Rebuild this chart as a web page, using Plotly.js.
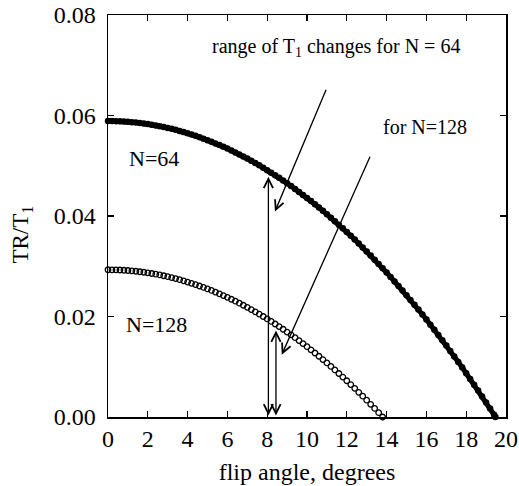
<!DOCTYPE html>
<html>
<head>
<meta charset="utf-8">
<script src="https://cdn.plot.ly/plotly-3.0.1.min.js"></script>
<style>html,body{margin:0;padding:0;background:#fff;}#chart{width:519px;height:486px;}</style>
</head>
<body>
<div id="chart"></div>
<script>
// flip angle (degrees) and TR/T1 for N = 64 (filled circles)
var angle64 = [0,0.2,0.4,0.6,0.8,1,1.2,1.4,1.6,1.8,2,2.2,2.4,2.6,2.8,3,3.2,3.4,3.6,3.8,4,4.2,4.4,4.6,4.8,5,5.2,5.4,5.6,5.8,6,6.2,6.4,6.6,6.8,7,7.2,7.4,7.6,7.8,8,8.2,8.4,8.6,8.8,9,9.2,9.4,9.6,9.8,10,10.2,10.4,10.6,10.8,11,11.2,11.4,11.6,11.8,12,12.2,12.4,12.6,12.8,13,13.2,13.4,13.6,13.8,14,14.2,14.4,14.6,14.8,15,15.2,15.4,15.6,15.8,16,16.2,16.4,16.6,16.8,17,17.2,17.4,17.6,17.8,18,18.2,18.4,18.6,18.8,19,19.2,19.4,19.47];
var tr64 = [0.05890,0.05889,0.05888,0.05885,0.05880,0.05875,0.05868,0.05860,0.05851,0.05841,0.05829,0.05816,0.05802,0.05787,0.05771,0.05753,0.05734,0.05714,0.05692,0.05670,0.05646,0.05621,0.05595,0.05567,0.05539,0.05509,0.05478,0.05445,0.05412,0.05377,0.05341,0.05303,0.05265,0.05225,0.05184,0.05142,0.05098,0.05054,0.05008,0.04960,0.04912,0.04862,0.04811,0.04759,0.04706,0.04651,0.04595,0.04538,0.04480,0.04420,0.04359,0.04297,0.04234,0.04169,0.04103,0.04036,0.03967,0.03897,0.03826,0.03754,0.03681,0.03606,0.03530,0.03452,0.03374,0.03294,0.03212,0.03130,0.03046,0.02961,0.02875,0.02787,0.02698,0.02608,0.02516,0.02423,0.02329,0.02233,0.02137,0.02039,0.01939,0.01838,0.01736,0.01633,0.01528,0.01422,0.01315,0.01206,0.01096,0.00985,0.00872,0.00758,0.00642,0.00525,0.00407,0.00288,0.00167,0.00045,0];
// flip angle (degrees) and TR/T1 for N = 128 (open circles)
var angle128 = [0,0.2,0.4,0.6,0.8,1,1.2,1.4,1.6,1.8,2,2.2,2.4,2.6,2.8,3,3.2,3.4,3.6,3.8,4,4.2,4.4,4.6,4.8,5,5.2,5.4,5.6,5.8,6,6.2,6.4,6.6,6.8,7,7.2,7.4,7.6,7.8,8,8.2,8.4,8.6,8.8,9,9.2,9.4,9.6,9.8,10,10.2,10.4,10.6,10.8,11,11.2,11.4,11.6,11.8,12,12.2,12.4,12.6,12.8,13,13.2,13.4,13.6,13.8];
var tr128 = [0.02930,0.02929,0.02928,0.02925,0.02920,0.02915,0.02908,0.02900,0.02891,0.02881,0.02869,0.02856,0.02842,0.02827,0.02811,0.02793,0.02774,0.02754,0.02732,0.02710,0.02686,0.02661,0.02635,0.02607,0.02579,0.02549,0.02518,0.02485,0.02452,0.02417,0.02381,0.02343,0.02305,0.02265,0.02224,0.02182,0.02138,0.02094,0.02048,0.02000,0.01952,0.01902,0.01851,0.01799,0.01746,0.01691,0.01635,0.01578,0.01520,0.01460,0.01399,0.01337,0.01274,0.01209,0.01143,0.01076,0.01007,0.00937,0.00866,0.00794,0.00721,0.00646,0.00570,0.00492,0.00414,0.00334,0.00252,0.00170,0.00086,0];

var xTicks = [0,2,4,6,8,10,12,14,16,18,20];
var yTicks = [0,0.02,0.04,0.06,0.08];
var yTickLabels = ['0.00','0.02','0.04','0.06','0.08'];

var FONT = 'Liberation Serif, Times New Roman, serif';

var traces = [
  {x: angle64, y: tr64, type: 'scatter', mode: 'lines+markers', cliponaxis: false,
   line: {color: '#000', width: 5},
   marker: {symbol: 'circle', size: 6.5, color: '#000', line: {width: 0}}, hoverinfo: 'skip'},
  {x: angle128, y: tr128, type: 'scatter', mode: 'markers', cliponaxis: false,
   marker: {symbol: 'circle-open', size: 5.5, color: '#000', line: {width: 1.3, color: '#000'}}, hoverinfo: 'skip'}
];

function arrow(x0, y0, x1, y1, both) {
  return {x: x1, y: y1, ax: x0, ay: y0, xref: 'x', yref: 'y', axref: 'x', ayref: 'y',
    text: '', showarrow: true, arrowhead: 5, startarrowhead: 5, arrowside: both ? 'end+start' : 'end',
    arrowsize: 1.4, startarrowsize: 1.4, arrowwidth: 1.3, arrowcolor: '#000', standoff: 0, startstandoff: 0};
}

var annotations = [
  {x: 11.46, y: 0.0736, xref: 'x', yref: 'y', text: 'range of T<sub>1</sub> changes for N = 64', showarrow: false,
   font: {family: FONT, size: 20, color: '#000'}},
  {x: 15.93, y: 0.0577, xref: 'x', yref: 'y', text: 'for N=128', showarrow: false,
   font: {family: FONT, size: 20, color: '#000'}},
  {x: 2.31, y: 0.0514, xref: 'x', yref: 'y', text: 'N=64', showarrow: false,
   font: {family: FONT, size: 22, color: '#000'}},
  {x: 2.45, y: 0.0184, xref: 'x', yref: 'y', text: 'N=128', showarrow: false,
   font: {family: FONT, size: 22, color: '#000'}},
  {x: -0.215, y: 0.455, xref: 'paper', yref: 'paper', xanchor: 'center', yanchor: 'middle',
   text: 'TR/T<sub>1</sub>', textangle: -90, showarrow: false,
   font: {family: FONT, size: 23, color: '#000'}},
  arrow(10.99, 0.0654, 8.39, 0.0409, false),
  arrow(13.2, 0.0521, 8.73, 0.0124, false),
  arrow(8.06, 0, 8.06, 0.0478, true),
  arrow(8.44, 0, 8.44, 0.0172, true)
];

var layout = {
  width: 519, height: 486,
  margin: {l: 108, r: 13, t: 15, b: 69},
  paper_bgcolor: '#fff', plot_bgcolor: '#fff',
  showlegend: false,
  font: {family: FONT, color: '#000', size: 24},
  xaxis: {range: [0, 20], tickvals: xTicks, ticks: 'inside', ticklen: 6, tickwidth: 1.3, tickcolor: '#000',
    showline: true, linewidth: 1.5, linecolor: '#000', mirror: 'ticks', showgrid: false, zeroline: false,
    tickfont: {family: FONT, size: 24, color: '#000'},
    title: {text: 'flip angle, degrees', font: {family: FONT, size: 24, color: '#000'}, standoff: 12}},
  yaxis: {range: [0, 0.08], tickvals: yTicks, ticktext: yTickLabels, ticks: 'inside', ticklen: 6, tickwidth: 1.3, tickcolor: '#000',
    showline: true, linewidth: 1.5, linecolor: '#000', mirror: 'ticks', showgrid: false, zeroline: false,
    tickfont: {family: FONT, size: 24, color: '#000'}, ticklabelstandoff: 6},
  annotations: annotations
};

Plotly.newPlot('chart', traces, layout, {staticPlot: true, displayModeBar: false});
</script>
</body>
</html>
